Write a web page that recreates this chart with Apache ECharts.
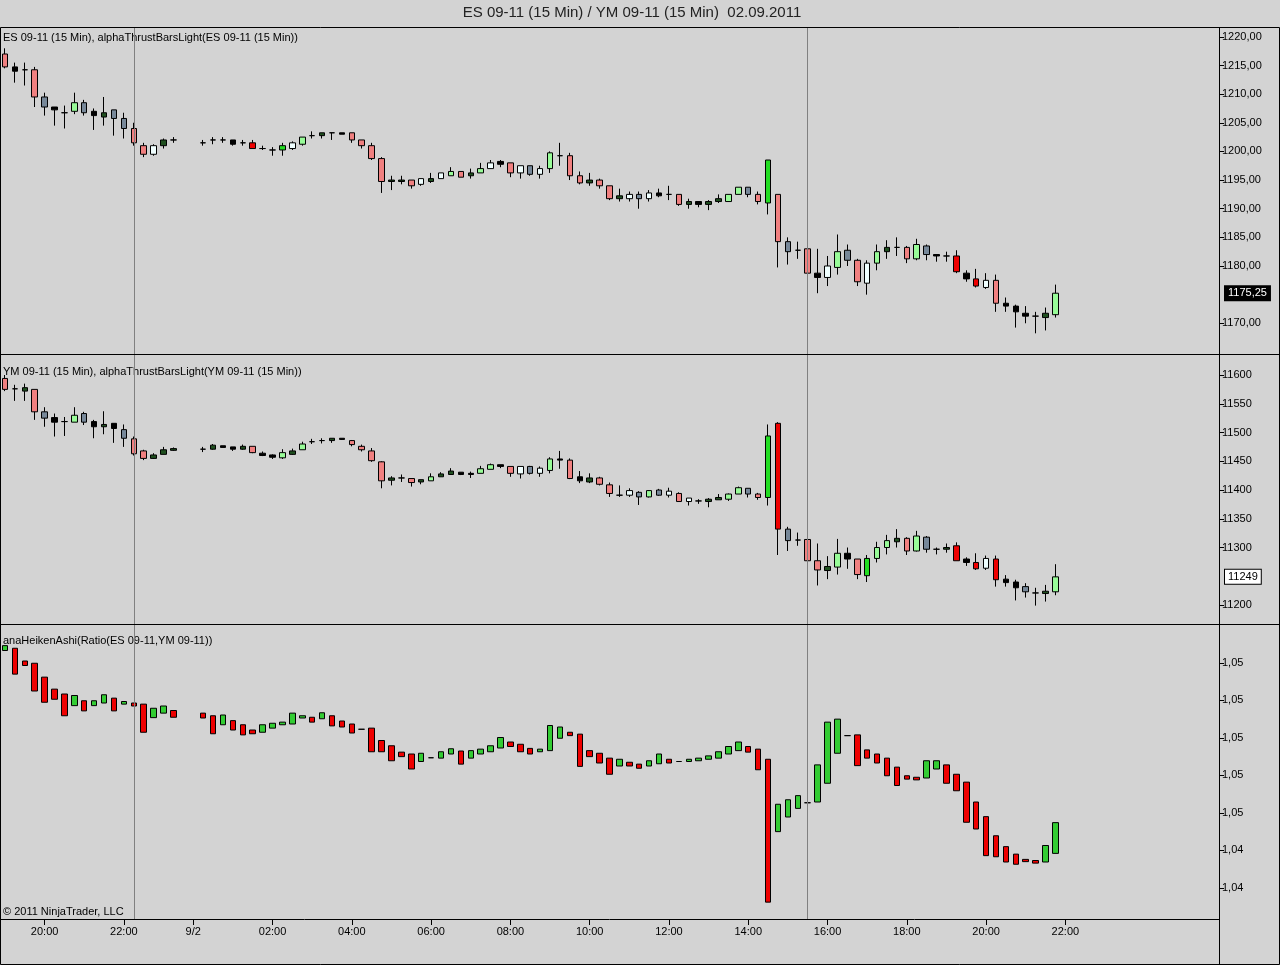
<!DOCTYPE html>
<html>
<head>
<meta charset="utf-8">
<title>ES 09-11 / YM 09-11 (15 Min) 02.09.2011</title>
<script src="https://cdn.jsdelivr.net/npm/echarts@6/dist/echarts.min.js"></script>
<style>
html, body { margin: 0; padding: 0; background: #d3d3d3; }
#chart { width: 1280px; height: 965px; }
</style>
</head>
<body>
<div id="chart"></div>
<script>
// ES 09-11 (15 Min), slots 18/19 are empty
var esOpen = [1217, 1214.75, 1214.25, 1214.25, 1209.5, 1207.75, 1206.75, 1207, 1208.5, 1207,
    1206, 1207.25, 1205.75, 1204, 1201, 1199.5, 1201, 1202, null, null,
    1201.5, 1202, 1202, 1202, 1201.5, 1201.5, 1200.5, 1200.25, 1200.25, 1200.5,
    1201.25, 1202.75, 1202.75, 1203.25, 1203.25, 1203.25, 1202, 1201, 1198.75, 1194.75,
    1194.75, 1195, 1194.25, 1194.75, 1195.25, 1195.75, 1196.5, 1195.75, 1196.25, 1197,
    1198.25, 1198, 1196.25, 1197.5, 1196, 1197, 1199.25, 1199.25, 1195.75, 1194.5,
    1195, 1194, 1191.75, 1191.75, 1192.5, 1191.75, 1192.75, 1192.5, 1192.5, 1190.75,
    1191.25, 1190.75, 1191.25, 1191.25, 1192.5, 1193.75, 1192.5, 1191, 1192.5, 1184.25,
    1182.75, 1183, 1178.75, 1178, 1179.75, 1182.75, 1181, 1177, 1180.5, 1182.5,
    1183.25, 1183.25, 1181.25, 1183.5, 1182, 1181.75, 1181.75, 1178.75, 1177.75, 1176.25,
    1177.5, 1173.5, 1173, 1171.75, 1171.25, 1171, 1171.5];
var esClose = [1214.75, 1214, 1214.25, 1209.5, 1207.75, 1207.25, 1206.75, 1208.5, 1206.75, 1206.25,
    1206.75, 1205.75, 1204, 1201.5, 1199.5, 1201, 1202, 1202, null, null,
    1201.5, 1202, 1202, 1201.25, 1201.5, 1200.5, 1200.5, 1200.25, 1201, 1201.5,
    1202.5, 1202.75, 1203.25, 1203.25, 1203, 1202, 1201, 1198.75, 1194.75, 1195,
    1195, 1194, 1195.25, 1195.25, 1196.25, 1196.5, 1195.5, 1196.25, 1197, 1198,
    1197.75, 1196.25, 1197.5, 1196, 1197, 1199.75, 1199.25, 1195.75, 1194.5, 1195,
    1194, 1191.75, 1192.25, 1192.5, 1191.75, 1192.75, 1192.25, 1192.5, 1190.75, 1191.25,
    1190.75, 1191.25, 1191.75, 1192.5, 1193.75, 1192.5, 1191.25, 1198.5, 1184.25, 1182.5,
    1182.75, 1178.75, 1178, 1180, 1182.5, 1181, 1177.25, 1180.5, 1182.5, 1183.25,
    1183.25, 1181.25, 1183.75, 1182, 1181.75, 1181.75, 1179, 1177.75, 1176.5, 1177.5,
    1173.5, 1173, 1172, 1171.25, 1171.25, 1171.75, 1175.25];
var esHigh = [1218, 1215.5, 1215.5, 1214.75, 1210.25, 1207.75, 1208, 1210.25, 1209, 1207.5,
    1209.5, 1207.25, 1206.75, 1205, 1201.5, 1201.25, 1202.25, 1202.5, null, null,
    1202, 1202.5, 1202.5, 1202, 1202, 1202, 1201, 1200.75, 1201.5, 1201.75,
    1202.5, 1203.5, 1203.25, 1203.25, 1203.25, 1203.25, 1202, 1201.5, 1199, 1195.75,
    1195.75, 1195, 1195.25, 1196.25, 1196.25, 1197.25, 1196.5, 1197, 1198, 1198.5,
    1198.5, 1198, 1197.5, 1197.5, 1197.5, 1200, 1201.5, 1199.75, 1196.5, 1196.25,
    1195.25, 1194, 1193.5, 1193, 1193, 1193.25, 1193.5, 1194, 1192.5, 1191.75,
    1191.25, 1191.5, 1192.5, 1192.5, 1193.75, 1193.75, 1193, 1198.5, 1192.5, 1185,
    1184.25, 1183, 1183, 1181.75, 1185.5, 1183.75, 1181.25, 1181, 1183.75, 1184.5,
    1185, 1183.5, 1184.75, 1183.75, 1182, 1182.5, 1182.75, 1179.25, 1179.5, 1178.75,
    1178.5, 1174.5, 1173.25, 1173, 1172, 1172.75, 1176.75];
var esLow = [1214.5, 1212, 1211.5, 1207.75, 1206.25, 1204.5, 1204, 1206.5, 1206.25, 1203.75,
    1204.5, 1202.75, 1202.25, 1201, 1199, 1199.25, 1200.5, 1201.5, null, null,
    1201, 1201.25, 1201.5, 1201, 1201, 1200.5, 1200.25, 1199.25, 1199.25, 1200.25,
    1201, 1202.25, 1202.25, 1202, 1203, 1201.5, 1200.5, 1198.5, 1192.75, 1193.25,
    1194.25, 1193.5, 1194, 1194.5, 1195.25, 1195.75, 1195.5, 1195.25, 1196.25, 1197,
    1197.25, 1195.5, 1195.25, 1195.75, 1195.25, 1196.25, 1197.5, 1195, 1194.25, 1194,
    1193.5, 1191.5, 1191.25, 1191.25, 1190, 1191.25, 1192, 1191.5, 1190.5, 1190,
    1190.25, 1189.75, 1191, 1191.25, 1192.5, 1192, 1190.75, 1189, 1179.75, 1180.25,
    1181.25, 1177.75, 1175.25, 1176.5, 1178.5, 1180, 1176.5, 1175, 1179.25, 1181.25,
    1181.75, 1180.5, 1181, 1181, 1180.75, 1180.75, 1178.75, 1177.25, 1176.25, 1176,
    1172, 1172, 1169.25, 1170, 1168.25, 1168.75, 1171];
// alphaThrustBarsLight state per bar
var esState = 'SKNSGKNLGK' + 'DGGSSWDN..' + 'NNNKNRNNMW' + 'LNDNKSSSSD' + 'DSWDWLSDLW' +
    'KSWGWLNSSD' + 'SSDWGWKNSD' + 'KDDLLGSMSG' + 'NSKWLGSWLD' + 'NSLGKNRKRW' + 'SKKKNDL';

// YM 09-11 (15 Min)
var ymOpen = [11594, 11576, 11572, 11575, 11536, 11526, 11519, 11518, 11533, 11519,
    11510, 11516, 11505, 11489, 11468, 11455, 11462, 11469, null, null,
    11471, 11471, 11477, 11475, 11471, 11476, 11464, 11461, 11456, 11462,
    11470, 11484, 11486, 11486, 11490, 11486, 11476, 11468, 11449, 11417,
    11421, 11420, 11414, 11416, 11423, 11427, 11431, 11429, 11429, 11436,
    11444, 11441, 11428, 11441, 11429, 11434, 11454, 11452, 11423, 11414,
    11421, 11409, 11391, 11391, 11396, 11388, 11400, 11391, 11394, 11380,
    11381, 11380, 11383, 11384, 11393, 11403, 11393, 11387, 11516, 11332,
    11313, 11314, 11277, 11260, 11266, 11290, 11280, 11251, 11281, 11300,
    11310, 11316, 11294, 11318, 11297, 11297, 11303, 11280, 11274, 11264,
    11280, 11245, 11240, 11232, 11221, 11220, 11223];
var ymClose = [11575, 11576, 11578, 11536, 11525, 11518, 11519, 11530, 11518, 11510,
    11514, 11507, 11490, 11463, 11455, 11461, 11470, 11472, null, null,
    11471, 11478, 11474, 11471, 11476, 11465, 11460, 11457, 11465, 11468,
    11480, 11484, 11486, 11490, 11488, 11479, 11470, 11451, 11416, 11421,
    11421, 11413, 11418, 11423, 11428, 11433, 11427, 11427, 11437, 11444,
    11441, 11429, 11441, 11429, 11438, 11454, 11452, 11420, 11416, 11421,
    11410, 11394, 11391, 11399, 11388, 11399, 11391, 11398, 11380, 11386,
    11381, 11384, 11387, 11393, 11404, 11393, 11387, 11494, 11332, 11312,
    11313, 11277, 11261, 11267, 11290, 11280, 11253, 11281, 11300, 11312,
    11316, 11294, 11320, 11297, 11297, 11300, 11277, 11274, 11263, 11281,
    11244, 11239, 11230, 11223, 11221, 11224, 11249];
var ymHigh = [11600, 11583, 11585, 11575, 11544, 11533, 11527, 11544, 11536, 11522,
    11537, 11516, 11514, 11493, 11470, 11464, 11475, 11474, null, null,
    11475, 11480, 11477, 11475, 11479, 11476, 11467, 11462, 11471, 11472,
    11484, 11489, 11490, 11490, 11490, 11487, 11479, 11473, 11450, 11424,
    11427, 11420, 11418, 11429, 11431, 11438, 11431, 11432, 11442, 11446,
    11444, 11441, 11441, 11442, 11441, 11457, 11468, 11455, 11433, 11429,
    11423, 11413, 11408, 11403, 11398, 11400, 11402, 11404, 11396, 11386,
    11384, 11386, 11393, 11394, 11406, 11403, 11395, 11514, 11518, 11336,
    11326, 11314, 11307, 11285, 11315, 11300, 11280, 11287, 11310, 11322,
    11332, 11318, 11329, 11320, 11300, 11307, 11309, 11283, 11290, 11286,
    11286, 11252, 11244, 11238, 11230, 11235, 11271];
var ymLow = [11572, 11555, 11555, 11522, 11510, 11493, 11494, 11518, 11513, 11490,
    11497, 11482, 11475, 11460, 11452, 11454, 11462, 11468, null, null,
    11466, 11470, 11474, 11468, 11470, 11464, 11459, 11454, 11454, 11461,
    11470, 11480, 11481, 11482, 11487, 11476, 11467, 11449, 11403, 11408,
    11414, 11406, 11410, 11416, 11423, 11427, 11426, 11421, 11429, 11436,
    11438, 11423, 11420, 11427, 11423, 11429, 11437, 11419, 11412, 11412,
    11408, 11388, 11388, 11388, 11374, 11387, 11390, 11387, 11380, 11373,
    11376, 11370, 11383, 11381, 11393, 11387, 11383, 11373, 11287, 11294,
    11303, 11271, 11234, 11245, 11253, 11263, 11245, 11240, 11274, 11288,
    11300, 11287, 11293, 11291, 11288, 11291, 11277, 11268, 11261, 11261,
    11232, 11232, 11208, 11213, 11199, 11206, 11217];
var ymState = 'SNDSGKNLGK' + 'DKGSSDDD..' + 'NDKKDSKKLD' + 'LNNDKSSSSD' + 'NSDLDDKKLL' +
    'KSWGWLKSKD' + 'SSNWGLGWSW' + 'NDDLLGSMRG' + 'NSSDLKSMLL' + 'DSLGNDRKRW' + 'RKKGNDL';

// anaHeikenAshi(Ratio(ES, YM))
var haOpen = [1.05033, 1.05039, 1.05005, 1.04999, 1.04962, 1.04930, 1.04917, 1.04886, 1.04899, 1.04886,
    1.04893, 1.04906, 1.04890, 1.04893, 1.04890, 1.04854, 1.04866, 1.04873, null, null,
    1.04866, 1.04859, 1.04835, 1.04846, 1.04835, 1.04821, 1.04815, 1.04826, 1.04835, 1.04837,
    1.04853, 1.04855, 1.04851, 1.04859, 1.04845, 1.04837, 1.04823, 1.04826, 1.04793, 1.04779,
    1.04762, 1.04757, 1.04737, 1.04747, 1.04746, 1.04757, 1.04765, 1.04746, 1.04757, 1.04763,
    1.04773, 1.04789, 1.04783, 1.04772, 1.04763, 1.04766, 1.04799, 1.04815, 1.04810, 1.04766,
    1.04759, 1.04746, 1.04725, 1.04735, 1.04730, 1.04725, 1.04731, 1.04743, 1.04737, 1.04737,
    1.04739, 1.04743, 1.04746, 1.04757, 1.04766, 1.04777, 1.04770, 1.04743, 1.04550, 1.04589,
    1.04612, 1.04627, 1.04629, 1.04679, 1.04759, 1.04806, 1.04808, 1.04768, 1.04757, 1.04746,
    1.04722, 1.04699, 1.04695, 1.04693, 1.04717, 1.04728, 1.04703, 1.04682, 1.04629, 1.04590,
    1.04539, 1.04510, 1.04490, 1.04476, 1.04473, 1.04469, 1.04492];
var haClose = [1.05046, 1.04970, 1.04993, 1.04925, 1.04895, 1.04903, 1.04859, 1.04913, 1.04872, 1.04899,
    1.04915, 1.04872, 1.04897, 1.04885, 1.04815, 1.04879, 1.04885, 1.04855, null, null,
    1.04853, 1.04811, 1.04861, 1.04821, 1.04808, 1.04811, 1.04835, 1.04839, 1.04842, 1.04866,
    1.04859, 1.04842, 1.04867, 1.04832, 1.04829, 1.04813, 1.04823, 1.04763, 1.04763, 1.04739,
    1.04750, 1.04717, 1.04759, 1.04747, 1.04763, 1.04771, 1.04730, 1.04766, 1.04770, 1.04779,
    1.04801, 1.04777, 1.04763, 1.04757, 1.04770, 1.04833, 1.04829, 1.04806, 1.04724, 1.04750,
    1.04733, 1.04703, 1.04743, 1.04725, 1.04719, 1.04739, 1.04757, 1.04733, 1.04737, 1.04743,
    1.04746, 1.04752, 1.04763, 1.04777, 1.04789, 1.04762, 1.04715, 1.04362, 1.04623, 1.04635,
    1.04646, 1.04627, 1.04728, 1.04842, 1.04850, 1.04806, 1.04726, 1.04746, 1.04733, 1.04699,
    1.04673, 1.04690, 1.04688, 1.04739, 1.04739, 1.04679, 1.04659, 1.04575, 1.04557, 1.04486,
    1.04483, 1.04469, 1.04463, 1.04470, 1.04466, 1.04513, 1.04574];

// axis labels on the right (1175,00 and 11250 sit under the price boxes)
var esTicks = [1170, 1180, 1185, 1190, 1195, 1200, 1205, 1210, 1215, 1220];
var ymTicks = [11200, 11300, 11350, 11400, 11450, 11500, 11550, 11600];
var haTicks = [1.044, 1.045, 1.046, 1.047, 1.048, 1.049, 1.050];
var sessionBreaks = [13, 81];

var stateColors = {
    S: '#f08080', K: '#000000', G: '#778899', L: '#98fb98', D: '#1f4f1f',
    W: '#f0ffff', R: '#ee0000', M: '#22dd22', N: '#000000'
};
var haUp = '#33cc33', haDown = '#ee0000';
var font = '"Liberation Sans", Arial, sans-serif';

var slotCount = 123;
var lastBar = esOpen.length - 1;

function pad(n) { return n < 10 ? '0' + n : '' + n; }

// 15-min slots: 19:00 .. 23:30 on 9/1, then from 00:00 on 9/2
var categories = [];
for (var i = 0; i < slotCount; i++) {
    var mins = i < 19 ? 19 * 60 + i * 15 : (i - 19) * 15;
    var day = i < 19 ? 1 : 2 + Math.floor(mins / 1440);
    mins = mins % 1440;
    categories.push('9/' + day + ' ' + pad(Math.floor(mins / 60)) + ':' + pad(mins % 60));
}

function showTime(idx, val) {
    var t = val.split(' ')[1];
    return idx <= lastBar + 1 && t.slice(3) === '00' && parseInt(t, 10) % 2 === 0;
}

function candleData(open, close, low, high, state) {
    return open.map(function (o, i) {
        if (o === null) return ['-', '-', '-', '-'];
        var c = stateColors[state.charAt(i)];
        return {
            value: [o, close[i], low[i], high[i]],
            itemStyle: { color: c, color0: c, borderColor: '#000', borderColor0: '#000', borderColorDoji: '#000' }
        };
    });
}

var haData = haOpen.map(function (o, i) {
    if (o === null) return ['-', '-', '-', '-'];
    var c = haClose[i];
    var col = c > o ? haUp : (c < o ? haDown : '#000');
    return {
        value: [o, c, Math.min(o, c), Math.max(o, c)],
        itemStyle: { color: col, color0: col, borderColor: '#000', borderColor0: '#000', borderColorDoji: '#000' }
    };
});

function sessionLines() {
    return sessionBreaks.map(function (b) {
        return { xAxis: b };
    });
}

// last price box on the price axis
function priceBox(value, text, dark) {
    return {
        yAxis: value,
        lineStyle: { color: 'rgba(0,0,0,0)', width: 1 },
        label: {
            show: true, position: 'end', distance: 6, formatter: text,
            backgroundColor: dark ? '#000' : '#fff', color: dark ? '#fff' : '#000',
            borderColor: '#000', borderWidth: 1, padding: [2, 3, 1, 3],
            fontSize: 11, fontFamily: font
        }
    };
}

function xAxisFor(idx, visible) {
    return {
        type: 'category', gridIndex: idx, data: categories, boundaryGap: true,
        axisLine: { show: visible, lineStyle: { color: '#000' } },
        axisTick: { show: visible, interval: showTime, alignWithLabel: true, length: 6, lineStyle: { color: '#000' } },
        axisLabel: {
            show: visible, interval: showTime, color: '#000', fontSize: 11, fontFamily: font, margin: 7,
            formatter: function (v) { var p = v.split(' '); return p[1] === '00:00' ? p[0] : p[1]; }
        },
        splitLine: { show: false }
    };
}

function yAxisFor(idx, min, max, ticks, fmt) {
    return {
        type: 'value', gridIndex: idx, position: 'right', min: min, max: max,
        axisLine: { show: true, lineStyle: { color: '#000' } },
        axisTick: { show: true, length: 5, customValues: ticks, lineStyle: { color: '#000' } },
        axisLabel: { customValues: ticks, formatter: fmt, color: '#000', fontSize: 11, fontFamily: font, margin: 3 },
        splitLine: { show: false }
    };
}

var lineStyle = { color: '#808080', width: 1, type: 'solid' };

var option = {
    backgroundColor: '#d3d3d3',
    animation: false,
    grid: [
        { left: 0, top: 28, width: 1219, height: 326 },
        { left: 0, top: 355, width: 1219, height: 269 },
        { left: 0, top: 625, width: 1219, height: 294 }
    ],
    xAxis: [xAxisFor(0, false), xAxisFor(1, false), xAxisFor(2, true)],
    yAxis: [
        yAxisFor(0, 1164.64, 1221.54, esTicks, function (v) { return v.toFixed(2).replace('.', ','); }),
        yAxisFor(1, 11167, 11634.8, ymTicks, function (v) { return String(v); }),
        yAxisFor(2, 1.04317, 1.05101, haTicks, function (v) { return v.toFixed(2).replace('.', ','); })
    ],
    series: [
        {
            name: 'ES 09-11', type: 'candlestick', xAxisIndex: 0, yAxisIndex: 0, barWidth: 6,
            itemStyle: { borderWidth: 1 },
            data: candleData(esOpen, esClose, esLow, esHigh, esState),
            markLine: {
                silent: true, symbol: ['none', 'none'], lineStyle: lineStyle, label: { show: false },
                data: sessionLines().concat([priceBox(esClose[lastBar], esClose[lastBar].toFixed(2).replace('.', ','), true)])
            }
        },
        {
            name: 'YM 09-11', type: 'candlestick', xAxisIndex: 1, yAxisIndex: 1, barWidth: 6,
            itemStyle: { borderWidth: 1 },
            data: candleData(ymOpen, ymClose, ymLow, ymHigh, ymState),
            markLine: {
                silent: true, symbol: ['none', 'none'], lineStyle: lineStyle, label: { show: false },
                data: sessionLines().concat([priceBox(ymClose[lastBar], String(ymClose[lastBar]), false)])
            }
        },
        {
            name: 'anaHeikenAshi', type: 'candlestick', xAxisIndex: 2, yAxisIndex: 2, barWidth: 6,
            itemStyle: { borderWidth: 1 },
            data: haData,
            markLine: {
                silent: true, symbol: ['none', 'none'], lineStyle: lineStyle, label: { show: false },
                data: sessionLines()
            }
        }
    ],
    graphic: [
        { type: 'text', x: 632, y: 13, style: { text: 'ES 09-11 (15 Min) / YM 09-11 (15 Min)  02.09.2011', font: '15px ' + font, fill: '#222', align: 'center', verticalAlign: 'middle' } },
        { type: 'text', x: 3, y: 38, style: { text: 'ES 09-11 (15 Min), alphaThrustBarsLight(ES 09-11 (15 Min))', font: '11px ' + font, fill: '#000', verticalAlign: 'middle' } },
        { type: 'text', x: 3, y: 372, style: { text: 'YM 09-11 (15 Min), alphaThrustBarsLight(YM 09-11 (15 Min))', font: '11px ' + font, fill: '#000', verticalAlign: 'middle' } },
        { type: 'text', x: 3, y: 641, style: { text: 'anaHeikenAshi(Ratio(ES 09-11,YM 09-11))', font: '11px ' + font, fill: '#000', verticalAlign: 'middle' } },
        { type: 'text', x: 3, y: 912, style: { text: '\u00a9 2011 NinjaTrader, LLC', font: '11px ' + font, fill: '#000', verticalAlign: 'middle' } },
        { type: 'rect', shape: { x: 0.5, y: 27.5, width: 1279, height: 937 }, style: { fill: null, stroke: '#000', lineWidth: 1 } },
        { type: 'line', shape: { x1: 0, y1: 354.5, x2: 1280, y2: 354.5 }, style: { stroke: '#000', lineWidth: 1 } },
        { type: 'line', shape: { x1: 0, y1: 624.5, x2: 1280, y2: 624.5 }, style: { stroke: '#000', lineWidth: 1 } },
        { type: 'line', shape: { x1: 1219.5, y1: 919, x2: 1219.5, y2: 965 }, style: { stroke: '#000', lineWidth: 1 } }
    ]
};

var chart = echarts.init(document.getElementById('chart'));
chart.setOption(option);
</script>
</body>
</html>
